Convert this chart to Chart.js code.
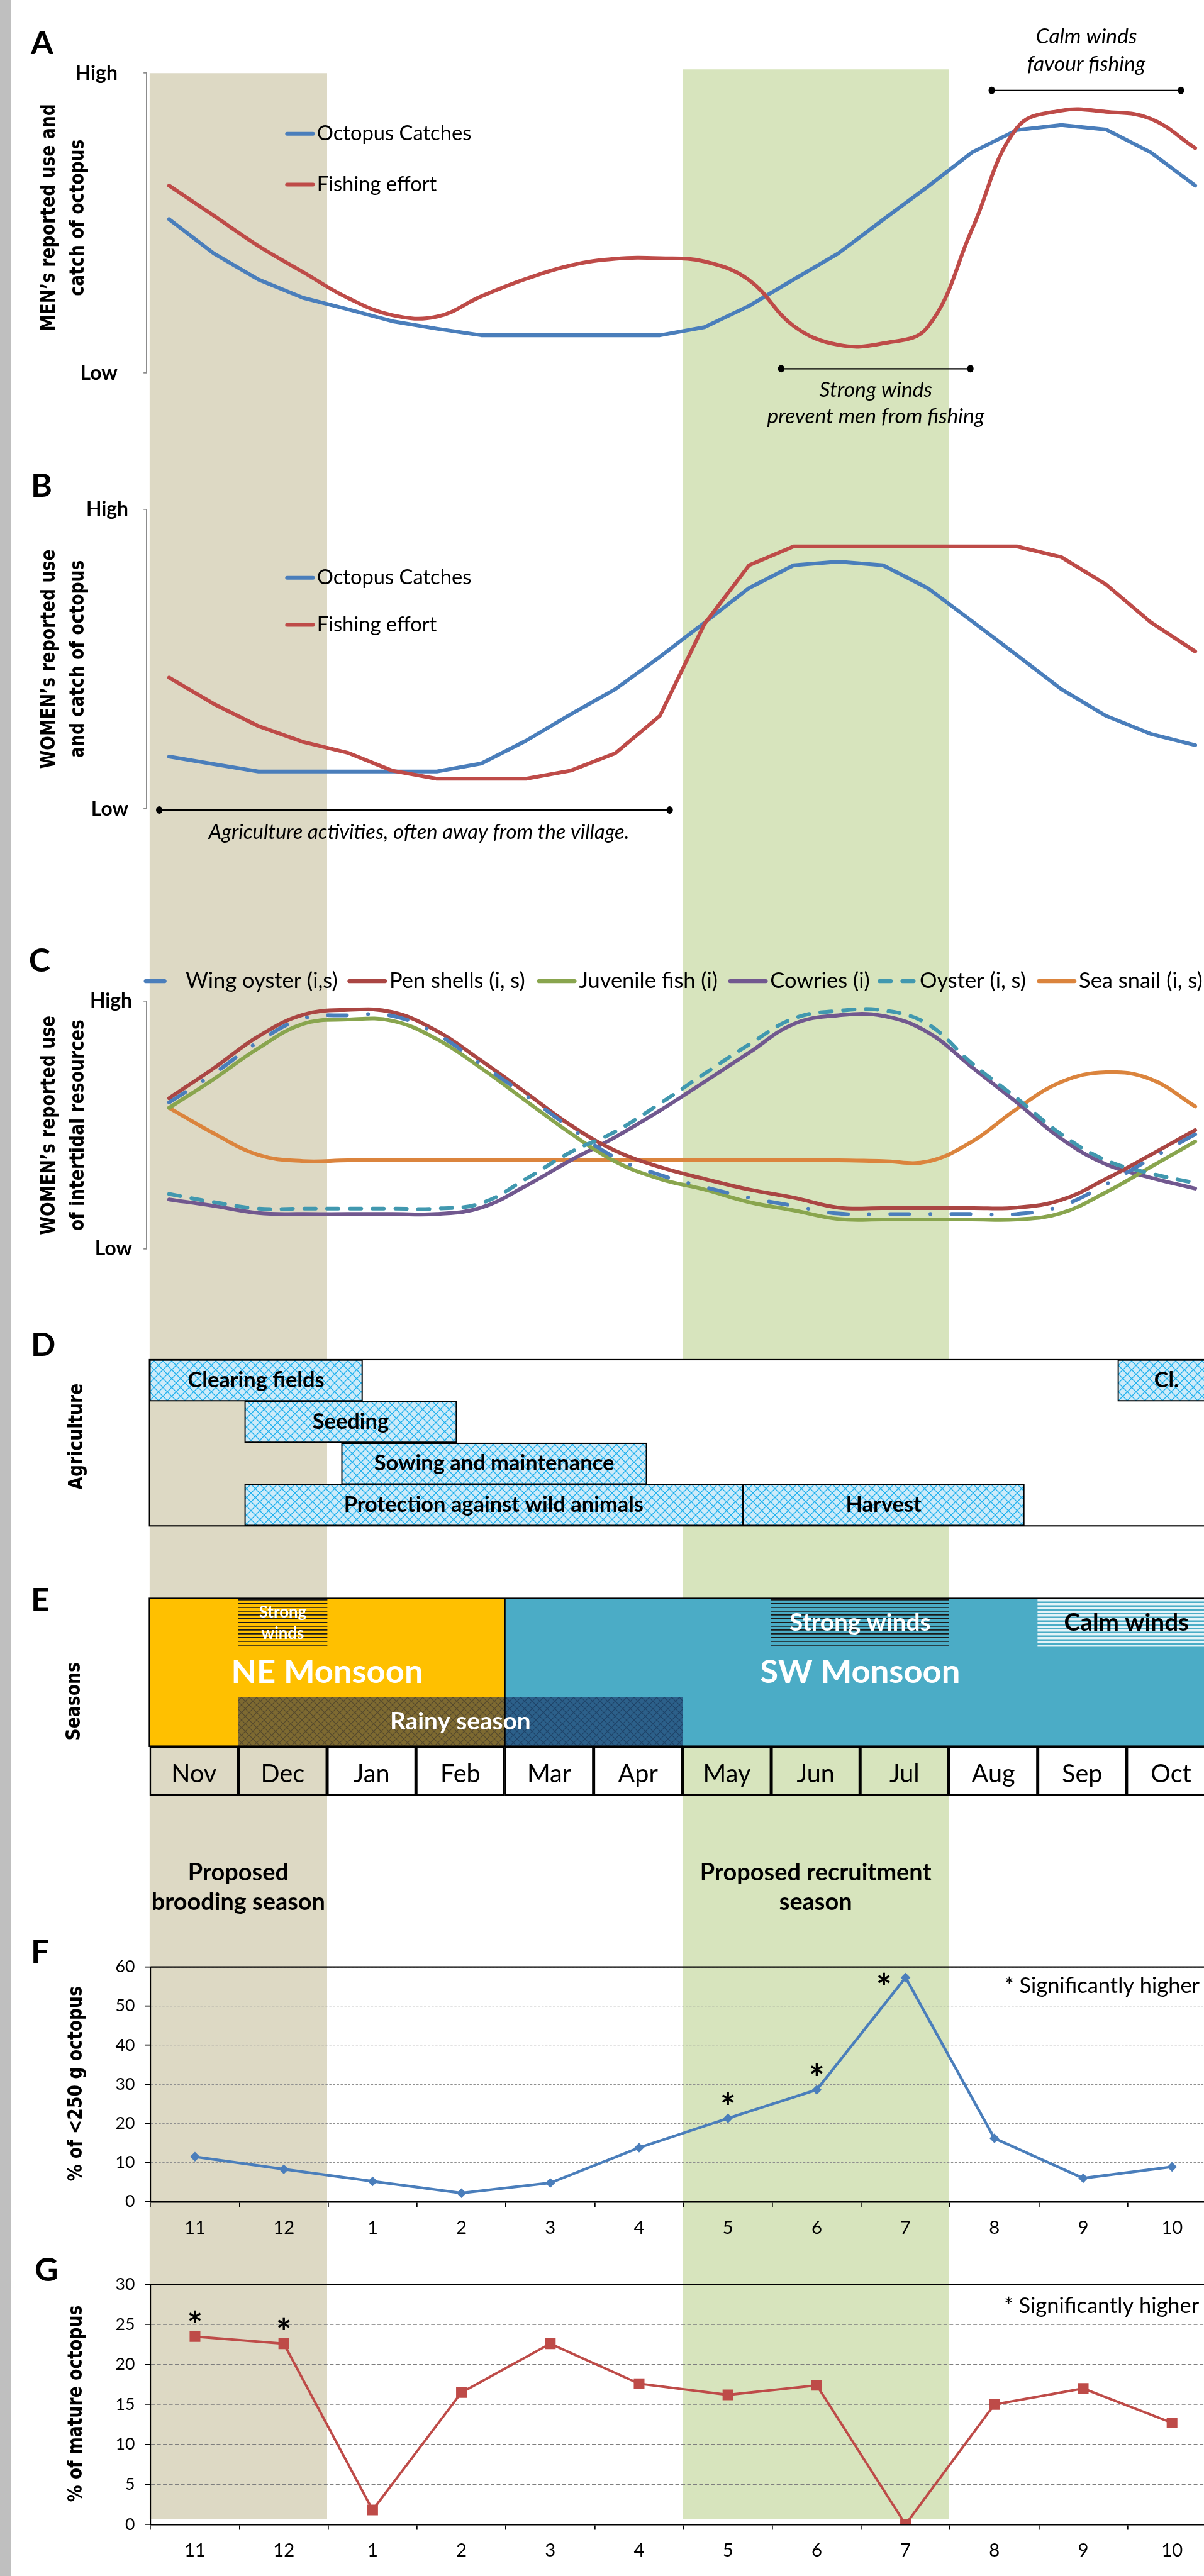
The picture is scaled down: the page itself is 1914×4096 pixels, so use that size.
<!DOCTYPE html>
<html lang="en">
<head>
<meta charset="UTF-8">
<title>Octopus fishery seasonal calendar</title>
<script src="https://cdn.jsdelivr.net/npm/chart.js"></script>
<style>
  html, body { margin: 0; padding: 0; background: #fff; }
  body { position: relative; width: 1914px; height: 4096px; overflow: hidden; }
  canvas { position: absolute; left: 0; }
  #strip { position: absolute; left: 0; top: 0; width: 17px; height: 4096px; background: #bfbfbf; }
</style>
</head>
<body>
<div id="strip"></div>
<canvas id="bg"></canvas>
<canvas id="panelA"></canvas>
<canvas id="panelB"></canvas>
<canvas id="panelC"></canvas>
<canvas id="panelD"></canvas>
<canvas id="panelE"></canvas>
<canvas id="panelF"></canvas>
<canvas id="panelG"></canvas>
<script>
// ---------------- data ----------------
const monthNames = ['Nov', 'Dec', 'Jan', 'Feb', 'Mar', 'Apr', 'May', 'Jun', 'Jul', 'Aug', 'Sep', 'Oct'];
const monthNumbers = ['11', '12', '1', '2', '3', '4', '5', '6', '7', '8', '9', '10'];
// panels A-C are read at half-month steps
const halfMonths = monthNames.flatMap(m => [m + ' 1', m + ' 2']);

// A: men (0 = Low, 100 = High)
const menCatch  = [51.3, 39.9, 31.2, 25.1, 21.3, 17.3, 14.8, 12.6, 12.6, 12.6, 12.6, 12.6, 15.3, 22.4, 31.2, 39.9, 51.1, 62.1, 73.6, 81.0, 82.7, 81.2, 73.6, 62.5];
const menEffort = [62.5, 52.5, 42.4, 33.7, 25.1, 19.3, 18.8, 25.6, 31.4, 35.9, 38.1, 38.3, 37.2, 31.0, 15.7, 9.4, 9.9, 15.3, 48.0, 81.7, 87.5, 87.1, 84.8, 75.0];

// B: women
const womenCatch  = [17.5, 15.0, 12.5, 12.5, 12.5, 12.5, 12.5, 15.2, 22.8, 31.6, 40.0, 50.8, 62.2, 73.8, 81.4, 82.6, 81.4, 73.8, 62.7, 51.4, 40.0, 31.1, 25.1, 21.3];
const womenEffort = [43.9, 35.1, 27.7, 22.4, 18.8, 12.8, 10.1, 10.1, 10.1, 12.8, 18.6, 31.1, 61.8, 81.4, 87.7, 87.7, 87.7, 87.7, 87.7, 87.7, 84.1, 75.0, 62.4, 52.6];

// C: intertidal resources
const wingOyster   = [59.1, 70.7, 83.6, 93.0, 94.3, 94.1, 86.7, 74.4, 61.9, 48.8, 36.8, 29.8, 24.9, 20.6, 17.3, 14.2, 14.0, 14.0, 14.0, 14.0, 17.3, 26.0, 36.3, 46.2];
const penShells    = [60.8, 72.9, 85.8, 94.5, 96.5, 95.6, 88.0, 75.9, 63.0, 49.9, 39.6, 33.0, 28.2, 23.9, 20.6, 16.6, 16.4, 16.4, 16.4, 16.6, 19.7, 28.2, 37.9, 47.9];
const juvenileFish = [56.9, 68.5, 81.0, 90.8, 92.6, 92.1, 84.7, 72.9, 59.7, 46.6, 35.2, 28.2, 23.9, 18.8, 15.5, 12.0, 11.8, 11.8, 11.8, 11.8, 14.4, 22.8, 33.0, 43.3];
const cowries      = [19.9, 17.3, 14.4, 14.0, 14.0, 14.0, 14.0, 16.6, 25.4, 35.7, 45.1, 55.8, 67.4, 79.2, 90.8, 94.3, 94.1, 87.5, 73.3, 59.1, 44.4, 34.1, 28.7, 24.3];
const oyster       = [22.1, 18.8, 16.2, 16.2, 16.2, 16.2, 16.2, 18.4, 28.2, 39.0, 47.3, 58.6, 70.7, 82.5, 93.0, 96.1, 96.3, 90.8, 74.8, 60.8, 46.2, 35.7, 30.4, 26.5];
const seaSnail     = [56.9, 46.6, 37.9, 35.4, 35.7, 35.7, 35.7, 35.7, 35.7, 35.7, 35.7, 35.7, 35.7, 35.7, 35.7, 35.7, 35.4, 35.2, 43.3, 56.5, 67.4, 71.3, 68.5, 57.5];

// D: agriculture (months counted from the start of November)
const agriRowNames = ['clearing', 'seeding', 'sowing', 'protection'];
const agriTasks = ['Clearing fields', 'Cl.', 'Seeding', 'Sowing and maintenance', 'Protection against wild animals', 'Harvest'];
const agriRow   = ['clearing', 'clearing', 'seeding', 'sowing', 'protection', 'protection'];
const agriStart = [0, 10.9, 1.07, 2.16, 1.07, 6.68];
const agriEnd   = [2.4, 12, 3.46, 5.6, 6.68, 9.85];

// E: seasons
const seasonRows = ['winds', 'monsoon', 'rain', 'months'];
const monsoonNames = ['NE Monsoon', 'SW Monsoon'];
const monsoonSpans = [[0, 4], [4, 12]];
const windNames = ['Strong\nwinds', 'Strong winds', 'Calm winds'];
const windSpans = [[1, 2], [7, 9], [10, 12]];
const rainyName = 'Rainy season';
const rainySpan = [1, 6];

// proposed seasons (shaded bands)
const bandNames = ['Proposed\nbrooding season', 'Proposed recruitment\nseason'];
const bandSpans = [[0, 2], [6, 9]];

// F, G: monthly samples
const smallOctopus  = [11.5, 8.3, 5.2, 2.2, 4.8, 13.8, 21.3, 28.6, 57.3, 16.2, 6.0, 8.9];
const smallSig      = [false, false, false, false, false, false, true, true, true, false, false, false];
const matureOctopus = [23.5, 22.6, 1.8, 16.5, 22.6, 17.6, 16.2, 17.4, 0, 15.0, 17.0, 12.7];
const matureSig     = [true, true, false, false, false, false, false, false, false, false, false, false];

// ---------------- layout (reference pixels) ----------------
const S = 0.861;
const W = 2300;               // drawing width; the right edge runs past the window
const M0 = 276, MW = 164;     // x of 1 Nov and width of one month
const BAND_TOP = [135, 128], BAND_BOTTOM = 4652;
const FONT = 'Lato, "Liberation Sans", sans-serif';
const TFONT = '"DejaVu Sans", Verdana, sans-serif';
const BLUE = '#4A7EBB', RED = '#BE4B48', AXIS_GRAY = '#8c8c8c';
const bandColors = ['#DDD9C4', '#D7E4BD'];
const monsoonColors = ['#FFC000', '#4BACC6'];

Chart.defaults.font.family = FONT;
Chart.defaults.color = '#000';
Chart.defaults.plugins.legend.display = false;
Chart.defaults.plugins.tooltip.enabled = false;

// ---------------- helpers ----------------
function pen(ctx, y0) {
  const X = x => x * S, Y = y => y * S - y0;
  const font = (size, o) => `${o.italic ? 'italic ' : ''}${o.bold ? 'bold ' : ''}${size * S}px ${o.family || FONT}`;
  return {
    X, Y, ctx,
    text(str, px, py, size, o = {}) {
      ctx.save();
      ctx.font = font(size, o);
      ctx.fillStyle = o.color || '#000';
      ctx.textAlign = o.align || 'center';
      ctx.textBaseline = 'middle';
      const lines = String(str).split('\n');
      const lh = (o.lh || size * 1.2) * S;
      lines.forEach((l, i) => ctx.fillText(l, px, py + (i - (lines.length - 1) / 2) * lh));
      ctx.restore();
    },
    vtext(lines, xs, yc, size) {
      lines.forEach((l, i) => {
        ctx.save();
        ctx.translate(X(xs[i]), Y(yc));
        ctx.rotate(-Math.PI / 2);
        ctx.scale(1, 1.2);
        ctx.font = `bold ${size * S}px ${TFONT}`;
        ctx.fillStyle = '#000';
        ctx.textAlign = 'center';
        ctx.textBaseline = 'middle';
        ctx.fillText(l, 0, 0);
        ctx.restore();
      });
    },
    range(x1, x2, py) {
      ctx.save();
      ctx.strokeStyle = ctx.fillStyle = '#000';
      ctx.lineWidth = 2.5 * S;
      ctx.beginPath(); ctx.moveTo(x1, py); ctx.lineTo(x2, py); ctx.stroke();
      [x1, x2].forEach(x => { ctx.beginPath(); ctx.ellipse(x, py, 6 * S, 7 * S, 0, 0, Math.PI * 2); ctx.fill(); });
      ctx.restore();
    },
    swatch(ds, x1, x2, py) {
      ctx.save();
      ctx.strokeStyle = ds.borderColor;
      ctx.lineWidth = ds.borderWidth;
      ctx.lineCap = ds.borderCapStyle || 'round';
      ctx.setLineDash(ds.borderDash || []);
      ctx.beginPath(); ctx.moveTo(x1, py); ctx.lineTo(x2, py); ctx.stroke();
      ctx.restore();
    }
  };
}

function panel(id, top, bottom, area, cfg, hooks) {
  const cv = document.getElementById(id);
  const y0 = Math.round(top * S);
  cv.width = Math.round(W * S);
  cv.height = Math.round((bottom - top) * S);
  cv.style.top = y0 + 'px';
  const o = cfg.options;
  o.responsive = false; o.animation = false; o.devicePixelRatio = 1;
  const sc = o.scales;
  const yShown = sc.y.display !== false, xShown = sc.x.display !== false;
  const padB = cv.height - (area.B * S - y0);
  o.layout = { autoPadding: false, padding: { left: yShown ? 0 : area.L * S, top: area.T * S - y0, right: cv.width - area.R * S, bottom: xShown ? 0 : padB } };
  if (yShown) sc.y.afterFit = s => { s.width = area.L * S; };
  if (xShown) sc.x.afterFit = s => { s.height = padB; };
  cfg.plugins = [{
    id: 'deco',
    beforeDatasetsDraw: ch => { if (hooks.before) hooks.before(ch, pen(ch.ctx, y0)); },
    afterDraw: ch => { if (hooks.after) hooks.after(ch, pen(ch.ctx, y0)); }
  }];
  return new Chart(cv, cfg);
}

const monthPx = (ch, m) => ch.chartArea.left + m * ch.chartArea.width / 12;

function series(label, data, color, width, extra) {
  return Object.assign({ label, data, borderColor: color, backgroundColor: color, borderWidth: width * S,
    pointRadius: 0, tension: 0, fill: false, borderCapStyle: 'round', borderJoinStyle: 'round' }, extra || {});
}

function levelScales(pad) {
  return {
    x: { type: 'category', offset: true, display: false },
    y: {
      min: 0, max: 100,
      afterBuildTicks: s => { s.ticks = [{ value: 0 }, { value: 100 }]; },
      ticks: { callback: v => (v === 100 ? 'High' : 'Low'), padding: pad * S, font: { size: 37 * S, weight: 'bold' }, color: '#000' },
      grid: { drawOnChartArea: false, tickLength: 6 * S, color: AXIS_GRAY, lineWidth: 2 * S },
      border: { color: AXIS_GRAY, width: 2 * S }
    }
  };
}

function pctScales(max, step, dash, gridColor, gridWidth) {
  return {
    x: { type: 'category', offset: true,
      grid: { offset: true, drawOnChartArea: false, tickLength: 10 * S, color: '#000', lineWidth: 2 * S },
      border: { color: '#000', width: 3 * S },
      ticks: { autoSkip: false, maxRotation: 0, font: { size: 34 * S }, color: '#000', padding: 18 * S } },
    y: { min: 0, max,
      ticks: { stepSize: step, font: { size: 31 * S }, color: '#000', padding: 19 * S },
      grid: { color: gridColor, lineWidth: gridWidth * S, tickLength: 10 * S, tickColor: '#000', tickWidth: 2 * S },
      border: { color: '#000', width: 2.5 * S, dash: dash.map(d => d * S) } }
  };
}

function hatch(bg, line, size, lw) {
  const c = document.createElement('canvas');
  c.width = c.height = size;
  const x = c.getContext('2d');
  x.fillStyle = bg; x.fillRect(0, 0, size, size);
  x.strokeStyle = line; x.lineWidth = lw;
  x.beginPath();
  x.moveTo(-1, -1); x.lineTo(size + 1, size + 1);
  x.moveTo(size + 1, -1); x.lineTo(-1, size + 1);
  x.stroke();
  return x.createPattern(c, 'repeat');
}

function stripes(bg, line, period, lw) {
  const c = document.createElement('canvas');
  c.width = 4; c.height = period;
  const x = c.getContext('2d');
  x.fillStyle = bg; x.fillRect(0, 0, 4, period);
  x.fillStyle = line; x.fillRect(0, 0, 4, lw);
  return x.createPattern(c, 'repeat');
}

function legendRows(ch, p, ys) {
  ch.data.datasets.forEach((d, i) => {
    const y = p.Y(ys[i]);
    p.swatch(d, p.X(530), p.X(578), y);
    p.text(d.label, p.X(585), y, 38, { align: 'left' });
  });
}

function significance(ch, p, flags) {
  const pts = ch.getDatasetMeta(0).data;
  flags.forEach((f, i) => {
    if (!f) return;
    const pt = pts[i];
    let x = pt.x, y = pt.y - 30 * S;
    if (y - 10 * S < ch.chartArea.top) { x = pt.x - 40 * S; y = pt.y + 10 * S; }
    p.text('*', x, y + 12 * S, 68, { bold: true });
  });
}

function frameTop(ch, p) {
  const c = p.ctx;
  c.save();
  c.strokeStyle = '#000'; c.lineWidth = 2.5 * S;
  c.beginPath(); c.moveTo(ch.chartArea.left, ch.chartArea.top); c.lineTo(ch.chartArea.right, ch.chartArea.top); c.stroke();
  c.restore();
}

// ---------------- charts ----------------
function background() {
  const cv = document.getElementById('bg');
  cv.width = Math.round(W * S);
  cv.height = Math.round(4752 * S);
  cv.style.top = '0px';
  const xMin = -M0 / MW, xMax = xMin + (cv.width / S) / MW;
  new Chart(cv, {
    type: 'line',
    data: { datasets: bandSpans.map((sp, i) => ({
      data: sp.map(m => ({ x: m, y: BAND_TOP[i] })),
      fill: { value: BAND_BOTTOM }, backgroundColor: bandColors[i],
      borderColor: 'rgba(0,0,0,0)', borderWidth: 0, pointRadius: 0 })) },
    options: { responsive: false, animation: false, devicePixelRatio: 1,
      layout: { autoPadding: false, padding: 0 },
      scales: { x: { type: 'linear', min: xMin, max: xMax, display: false },
                y: { min: 0, max: cv.height / S, reverse: true, display: false } } },
    plugins: [{ id: 'proposed', afterDraw: ch => {
      const p = pen(ch.ctx, 0);
      bandNames.forEach((n, i) => {
        const xc = ch.scales.x.getPixelForValue((bandSpans[i][0] + bandSpans[i][1]) / 2);
        p.text(n, xc, p.Y(3486), 44, { bold: true, lh: 55 });
      });
    } }]
  });
}

function build() {
  background();

  // A
  panel('panelA', 0, 830, { L: 271, T: 135, R: 2248, B: 689 }, {
    type: 'line',
    data: { labels: halfMonths, datasets: [
      series('Octopus Catches', menCatch, BLUE, 7, { order: 2 }),
      series('Fishing effort', menEffort, RED, 7, { order: 1, tension: 0.4 })
    ] },
    options: { scales: levelScales(48) }
  }, { after: (ch, p) => {
    p.text('A', p.X(57), p.Y(81), 60, { bold: true, align: 'left' });
    p.vtext(['MEN\u2019s reported use and', 'catch of octopus'], [91, 145], 402, 31);
    legendRows(ch, p, [247, 341]);
    p.range(monthPx(ch, 9.47), monthPx(ch, 11.59), p.Y(167));
    p.text('Calm winds\nfavour fishing', monthPx(ch, 10.53), p.Y(93), 39, { italic: true, lh: 52 });
    p.range(monthPx(ch, 7.11), monthPx(ch, 9.23), p.Y(681));
    p.text('Strong winds\nprevent men from fishing', monthPx(ch, 8.17), p.Y(745), 39, { italic: true, lh: 49 });
  } });

  // B
  panel('panelB', 840, 1620, { L: 271, T: 941, R: 2248, B: 1494 }, {
    type: 'line',
    data: { labels: halfMonths, datasets: [
      series('Octopus Catches', womenCatch, BLUE, 7, { order: 2 }),
      series('Fishing effort', womenEffort, RED, 7, { order: 1 })
    ] },
    options: { scales: levelScales(28) }
  }, { after: (ch, p) => {
    p.text('B', p.X(57), p.Y(898), 60, { bold: true, align: 'left' });
    p.vtext(['WOMEN\u2019s reported use', 'and catch of octopus'], [91, 145], 1217, 31);
    legendRows(ch, p, [1067, 1154]);
    p.range(monthPx(ch, 0.14), monthPx(ch, 5.86), p.Y(1496));
    p.text('Agriculture activities, often away from the village.', monthPx(ch, 3.05), p.Y(1537), 38, { italic: true });
  } });

  // C
  const smooth = { tension: 0.4 };
  panel('panelC', 1640, 2420, { L: 271, T: 1849, R: 2248, B: 2306 }, {
    type: 'line',
    data: { labels: halfMonths, datasets: [
      series('Wing oyster (i,s)', wingOyster, '#4A7EBB', 7, Object.assign({ order: 1, borderDash: [35 * S, 39 * S, 0.1, 39 * S] }, smooth)),
      series('Pen shells (i, s)', penShells, '#AA4643', 7, Object.assign({ order: 3 }, smooth)),
      series('Juvenile fish (i)', juvenileFish, '#89A54E', 7, Object.assign({ order: 4 }, smooth)),
      series('Cowries (i)', cowries, '#71588F', 7, Object.assign({ order: 5 }, smooth)),
      series('Oyster (i, s)', oyster, '#4198AF', 7, Object.assign({ order: 2, borderDash: [21 * S, 21 * S] }, smooth)),
      series('Sea snail (i, s)', seaSnail, '#DB843D', 7, Object.assign({ order: 6 }, smooth))
    ] },
    options: { scales: levelScales(21) }
  }, { after: (ch, p) => {
    p.text('C', p.X(53), p.Y(1775), 60, { bold: true, align: 'left' });
    p.vtext(['WOMEN\u2019s reported use', 'of intertidal resources'], [91, 145], 2078, 31);
    const xs = [265, 641, 991, 1344, 1620, 1914];
    ch.data.datasets.forEach((d, i) => {
      p.swatch(d, p.X(xs[i] + 4), p.X(xs[i] + 70), p.Y(1812));
      p.text(d.label, p.X(xs[i] + 78), p.Y(1812), 40, { align: 'left' });
    });
  } });

  // D
  const hatchBlue = hatch('#cdebf9', '#1fb1ee', Math.round(16 * S), 1.6 * S);
  panel('panelD', 2440, 2860, { L: 276, T: 2511, R: 2244, B: 2818 }, {
    type: 'bar',
    data: { labels: agriRowNames, datasets: [{
      data: agriTasks.map((t, i) => ({ x: [agriStart[i], agriEnd[i]], y: agriRow[i] })),
      backgroundColor: hatchBlue, borderColor: '#000', borderWidth: 2.5 * S, borderSkipped: false,
      barPercentage: 1, categoryPercentage: 1 }] },
    options: { indexAxis: 'y', scales: { x: { type: 'linear', min: 0, max: 12, display: false }, y: { display: false } } }
  }, {
    before: (ch, p) => {
      const a = ch.chartArea, c = p.ctx;
      const xw = ch.scales.x.getPixelForValue(bandSpans[0][1]);
      c.save();
      c.fillStyle = '#fff';
      c.fillRect(xw, a.top, ch.width - xw, a.bottom - a.top);
      c.strokeStyle = '#000'; c.lineWidth = 2.5 * S;
      c.strokeRect(a.left, a.top, a.right - a.left + 20, a.bottom - a.top);
      c.restore();
    },
    after: (ch, p) => {
      p.text('D', p.X(57), p.Y(2485), 60, { bold: true, align: 'left' });
      p.vtext(['Agriculture'], [142], 2653, 31);
      ch.getDatasetMeta(0).data.forEach((el, i) => {
        p.text(agriTasks[i], (el.x + el.base) / 2, el.y, 40, { bold: true });
      });
    }
  });

  // E
  const windFills = [
    stripes('#FFC000', '#1a1a1a', 8 * S, 2 * S),
    stripes('#4BACC6', '#1a1a1a', 8 * S, 2 * S),
    stripes('#4BACC6', '#e4f3f8', 8 * S, 4 * S)
  ];
  const windText = ['#fff', '#fff', '#000'];
  const windSize = [30, 45, 45];
  const rainFill = hatch('rgba(20,35,90,0.55)', 'rgba(10,15,40,0.35)', Math.round(14 * S), 1.4 * S);
  panel('panelE', 2870, 3340, { L: 276, T: 2952, R: 2244, B: 3316 }, {
    type: 'bar',
    data: { labels: seasonRows, datasets: [
      { label: 'monsoon', order: 4, borderWidth: 0,
        data: monsoonSpans.flatMap(sp => seasonRows.slice(0, 3).map(r => ({ x: sp, y: r }))),
        backgroundColor: c => monsoonColors[Math.floor(c.dataIndex / 3)] },
      { label: 'winds', order: 3, borderWidth: 0, data: windSpans.map(sp => ({ x: sp, y: 'winds' })), backgroundColor: windFills },
      { label: 'rain', order: 2, borderWidth: 0, data: [{ x: rainySpan, y: 'rain' }], backgroundColor: rainFill },
      { label: 'months', order: 1, data: monthNames.map((m, i) => ({ x: [i, i + 1], y: 'months' })),
        backgroundColor: 'rgba(0,0,0,0)', borderColor: '#000', borderWidth: 2.5 * S, borderSkipped: false }
    ] },
    options: { indexAxis: 'y', datasets: { bar: { grouped: false, barPercentage: 1, categoryPercentage: 1 } },
      scales: { x: { type: 'linear', min: 0, max: 12, display: false }, y: { display: false } } }
  }, { after: (ch, p) => {
    const c = p.ctx, a = ch.chartArea;
    const mon = ch.getDatasetMeta(0).data;
    const top = mon[0].y - mon[0].height / 2, bot = mon[2].y + mon[2].height / 2;
    const xd = ch.scales.x.getPixelForValue(monsoonSpans[0][1]);
    c.save();
    c.strokeStyle = '#000'; c.lineWidth = 3 * S;
    c.strokeRect(a.left, top, a.right - a.left + 20, bot - top);
    c.beginPath(); c.moveTo(xd, top); c.lineTo(xd, bot); c.stroke();
    c.restore();
    monsoonNames.forEach((n, i) => {
      const el = mon[i * 3 + 1];
      p.text(n, (el.x + el.base) / 2, el.y, 61, { bold: true, color: '#fff' });
    });
    ch.getDatasetMeta(1).data.forEach((el, i) => {
      p.text(windNames[i], (el.x + el.base) / 2, el.y, windSize[i], { bold: true, color: windText[i], lh: 39 });
    });
    const rel = ch.getDatasetMeta(2).data[0];
    p.text(rainyName, (rel.x + rel.base) / 2, rel.y, 45, { bold: true, color: '#fff' });
    ch.getDatasetMeta(3).data.forEach((el, i) => {
      p.text(monthNames[i], (el.x + el.base) / 2, el.y + 6 * S, 46, {});
    });
    p.text('E', p.X(57), p.Y(2956), 60, { bold: true, align: 'left' });
    p.vtext(['Seasons'], [138], 3142, 31);
  } });

  // F
  panel('panelF', 3570, 4150, { L: 278, T: 3632.5, R: 2246, B: 4066 }, {
    type: 'line',
    data: { labels: monthNumbers, datasets: [
      series('% of <250 g octopus', smallOctopus, BLUE, 5, { pointStyle: 'rectRot', pointRadius: 9 * S, pointBorderWidth: 0, borderJoinStyle: 'miter' })
    ] },
    options: { scales: pctScales(60, 10, [4, 3], '#8f8f8f', 1.5) }
  }, { after: (ch, p) => {
    frameTop(ch, p);
    significance(ch, p, smallSig);
    p.text('* Significantly higher', p.X(2215), p.Y(3668), 40, { align: 'right' });
    p.text('F', p.X(57), p.Y(3605), 60, { bold: true, align: 'left' });
    p.vtext(['% of <250 g octopus'], [141], 3848, 31);
  } });

  // G
  panel('panelG', 4150, 4752, { L: 278, T: 4219, R: 2246, B: 4662 }, {
    type: 'line',
    data: { labels: monthNumbers, datasets: [
      series('% of mature octopus', matureOctopus, RED, 4.5, { pointStyle: 'rect', pointRadius: 14 * S, pointBorderWidth: 0, borderJoinStyle: 'miter' })
    ] },
    options: { scales: pctScales(30, 5, [7, 4], '#7f7f7f', 2) }
  }, { after: (ch, p) => {
    frameTop(ch, p);
    significance(ch, p, matureSig);
    p.text('* Significantly higher', p.X(2214), p.Y(4259), 40, { align: 'right' });
    p.text('G', p.X(64), p.Y(4193), 60, { bold: true, align: 'left' });
    p.vtext(['% of mature octopus'], [141], 4439, 31);
  } });
}

Promise.all(['20px Lato', 'bold 20px Lato', 'italic 20px Lato', 'bold 20px "DejaVu Sans"'].map(f => document.fonts.load(f)))
  .catch(() => {})
  .then(build);
</script>
</body>
</html>
